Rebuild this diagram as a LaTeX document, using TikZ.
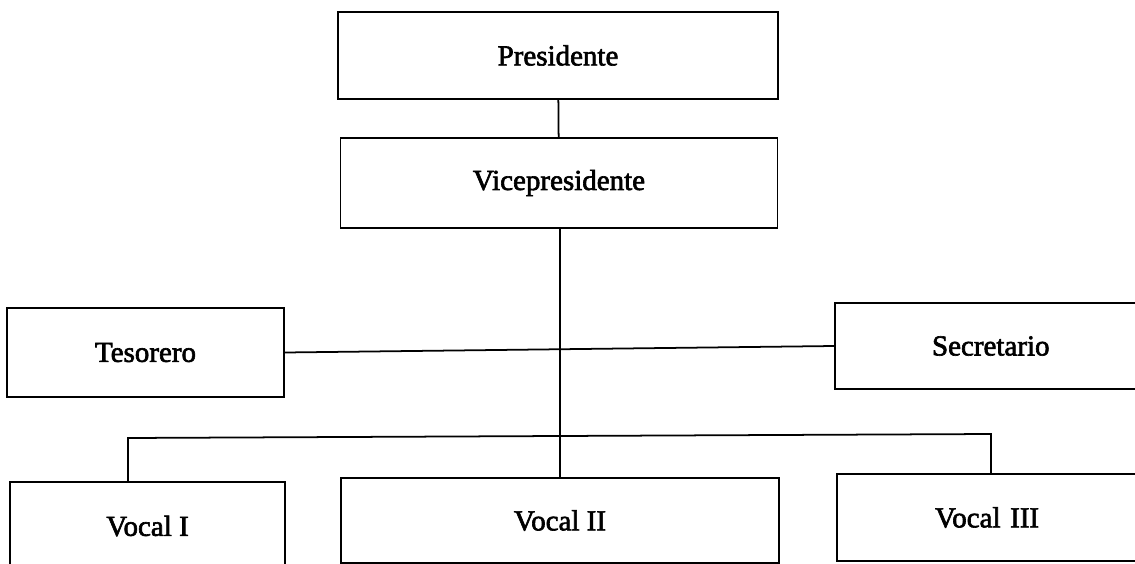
\documentclass[tikz,border=0pt]{standalone}
\usepackage{fontspec}
\setmainfont{Liberation Serif}
\newfontfamily\escrito{Liberation Serif}[AutoFakeBold=2.2]
\usepackage{tikz}
\usetikzlibrary{positioning, calc}

\begin{document}
\begin{tikzpicture}[x=0.02cm, y=-0.02cm,
		cargo/.style={draw, line width=1pt, inner sep=0pt, font=\escrito\bfseries\fontsize{16.5}{19}\selectfont},
		linea/.style={line width=1pt}]
	\useasboundingbox (0,0) rectangle (1135,564);
	\node [cargo, minimum width=8.8cm, minimum height=1.74cm] (pres) at (558,55.5) {Presidente};
	\node [cargo, minimum width=8.74cm, minimum height=1.8cm] (vice) at (559,183) {Vicepresidente};
	\node [cargo, minimum width=5.54cm, minimum height=1.78cm] (teso) at (145.5,352.5) {Tesorero};
	\node [cargo, minimum width=6.3cm, minimum height=1.72cm, text width=5.9cm, align=left] (secr) at (992.5,346) {\hspace{1.74cm}Secretario};
	\node [cargo, minimum width=5.5cm, minimum height=1.76cm] (voc1) at (147.5,526) {Vocal I};
	\node [cargo, minimum width=8.76cm, minimum height=1.7cm] (voc2) at (560,520.5) {Vocal II};
	\node [cargo, minimum width=6.26cm, minimum height=1.74cm, text width=5.9cm, align=left] (voc3) at (993.5,517.5) {\hspace{1.78cm}Vocal III};
	\coordinate (busL) at (128,438);
	\coordinate (busR) at (991,434);
	\draw [linea] (pres) -- (vice);
	\draw [linea] (vice.south -| voc2.north) -- (voc2.north);
	\draw [linea] (teso.east) -- (secr.west);
	\draw [linea] (voc1.north -| busL) -- (busL) -- (busR) -- (voc3.north -| busR);
\end{tikzpicture}
\end{document}
